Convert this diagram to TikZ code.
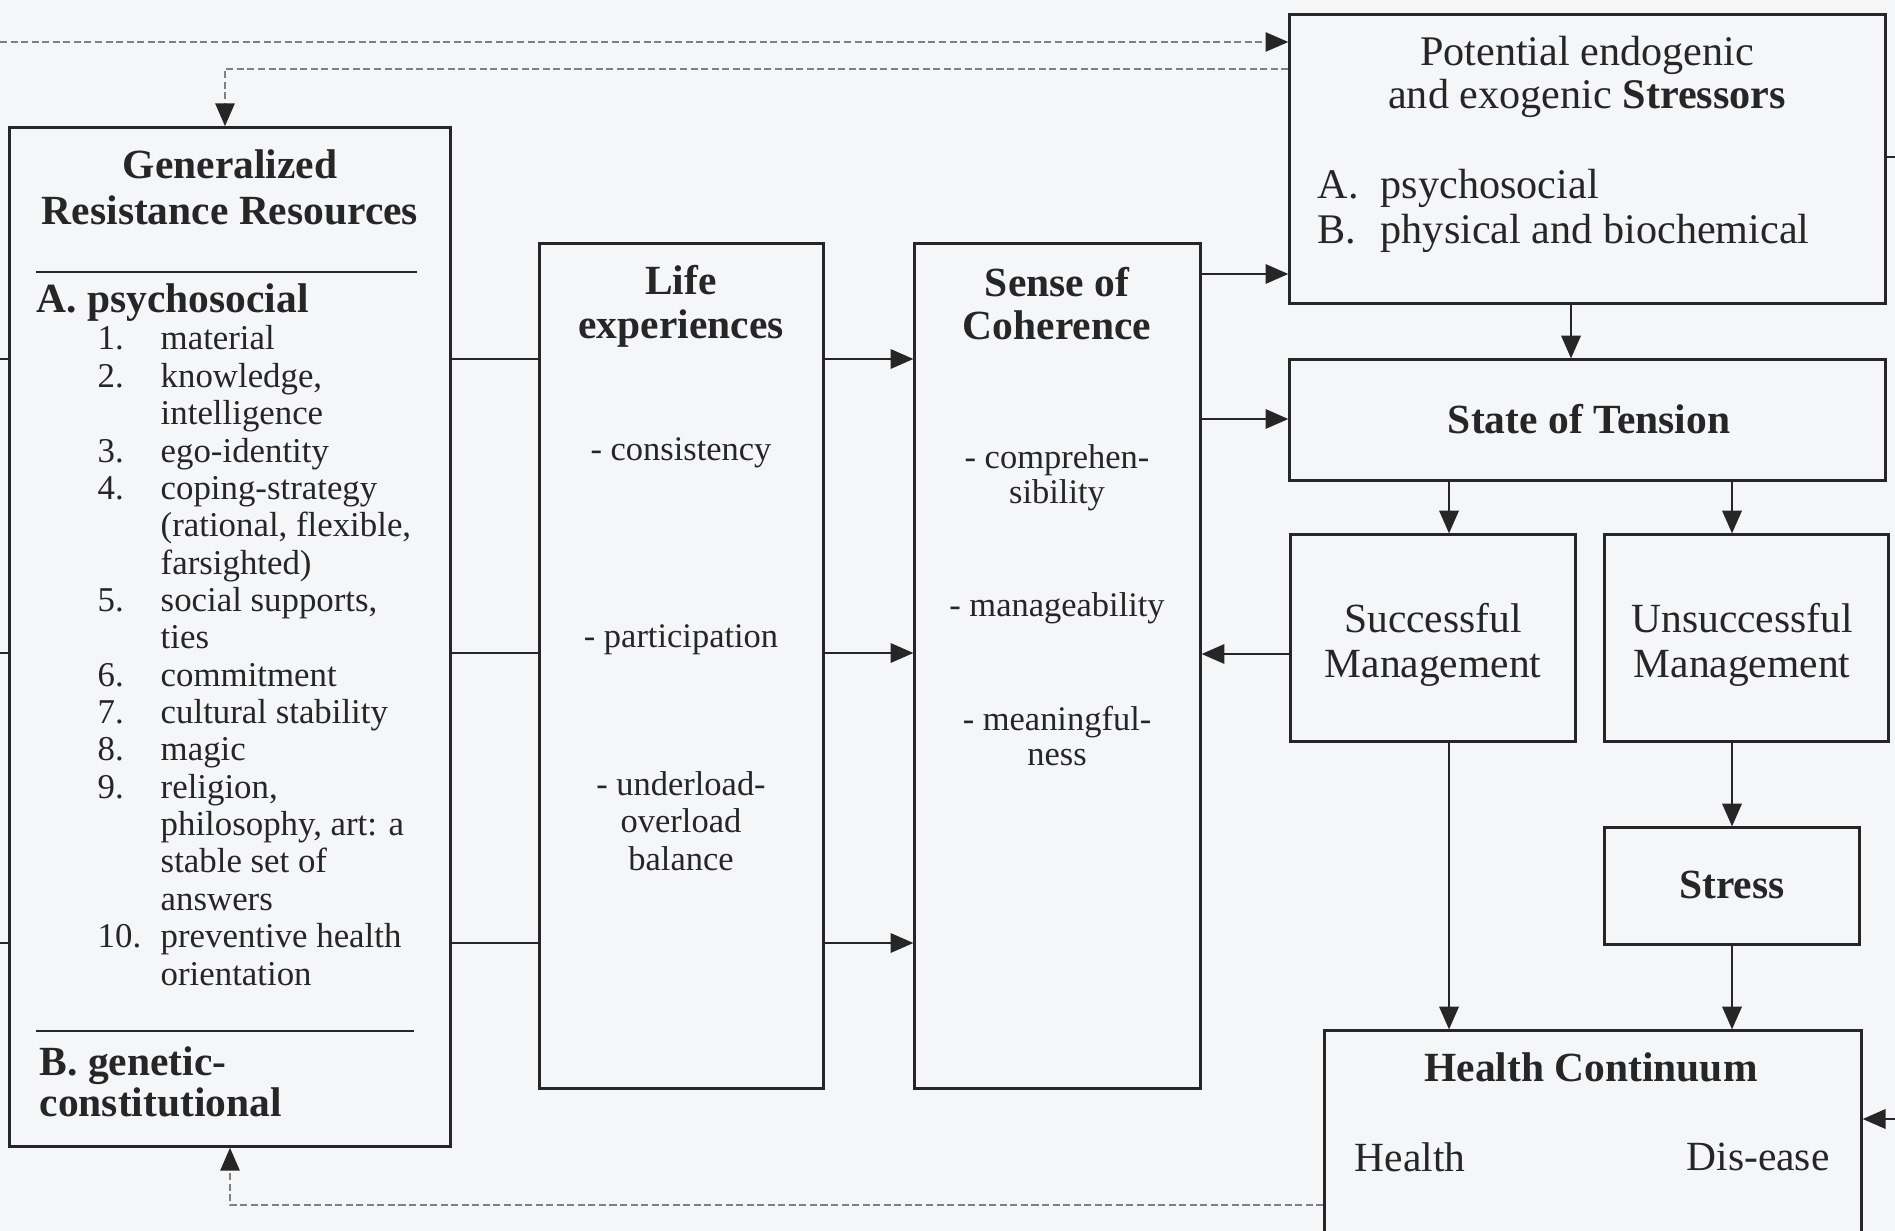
\documentclass[tikz,border=0pt]{standalone}
\usepackage{fontspec}
\setmainfont{Liberation Serif}
\usetikzlibrary{arrows.meta}
\definecolor{ink}{HTML}{262626}
\definecolor{paper}{HTML}{F4F6F7}
\definecolor{dashgray}{HTML}{808080}

\begin{document}
\begin{tikzpicture}[x=0.01cm, y=-0.01cm,
  box/.style={draw=ink, line width=0.85pt, fill=paper, inner sep=0pt, rectangle},
  conn/.style={draw=ink, line width=0.7pt},
  arr/.style={conn, -{Triangle[length=6.5pt,width=5.5pt]}},
  fb/.style={draw=dashgray, line width=0.5pt, dash pattern=on 2pt off 1pt,
             -{Triangle[length=6.5pt,width=5.5pt,color=ink]}},
  title/.style={font=\fontsize{11.8}{13}\selectfont\bfseries, text=ink, align=center, inner sep=0pt},
  body/.style={font=\fontsize{11.8}{13}\selectfont, text=ink, align=center, inner sep=0pt},
  item/.style={font=\fontsize{9.8}{10.7}\selectfont, text=ink, align=center, inner sep=0pt},
]
\fill[paper] (0,0) rectangle (1895,1231);
\clip (0,0) rectangle (1895,1231);

% helper levels for the parallel connectors
\coordinate (r1) at (0,359);
\coordinate (r2) at (0,653);
\coordinate (r3) at (0,943);
\coordinate (l1) at (0,359);
\coordinate (l2) at (0,653);
\coordinate (l3) at (0,943);
\coordinate (c1) at (1449,0);
\coordinate (c2) at (1732,0);
\coordinate (c3) at (1571,0);
\coordinate (topin) at (0,42);
\coordinate (fbtop) at (225,69);
\coordinate (fbbot) at (230,1205);
\coordinate (redge) at (1895,157);
\coordinate (hcin) at (1895,1119);

% boxes
\node[box, minimum width=4.40cm, minimum height=10.18cm] (grr) at (230,637) {};
\node[box, minimum width=2.83cm, minimum height=8.44cm] (life) at (681.5,666) {};
\node[box, minimum width=2.85cm, minimum height=8.44cm] (soc) at (1057.5,666) {};
\node[box, minimum width=5.95cm, minimum height=2.88cm] (str) at (1587.5,159) {};
\node[box, minimum width=5.95cm, minimum height=1.20cm] (ten) at (1587.5,420) {};
\node[box, minimum width=2.84cm, minimum height=2.06cm] (sm) at (1433,638) {};
\node[box, minimum width=2.83cm, minimum height=2.06cm] (um) at (1746.5,638) {};
\node[box, minimum width=2.54cm, minimum height=1.16cm] (stress) at (1732,886) {};
\node[box, minimum width=5.36cm, minimum height=2.29cm] (hc) at (1593,1145.5) {};

% Generalized Resistance Resources
\node[title, font=\fontsize{11.8}{13.1}\selectfont\bfseries] (grrtitle) at (230,187) {Generalized\\Resistance Resources};
\draw[conn, line width=0.6pt] (36,272) -- (417,272);
\node[title, anchor=west] (grra) at (36,303) {A. psychosocial};
\node[anchor=base west, inner sep=0pt, text=ink, font=\fontsize{9.9}{11.24}\selectfont] (grrlist) at (97,350)
 {\renewcommand{\arraystretch}{0.945}%
 \begin{tabular}[t]{@{}p{0.63cm}@{}l@{}}
 1. & material\\
 2. & knowledge,\\
    & intelligence\\
 3. & ego-identity\\
 4. & coping-strategy\\
    & (rational, flexible,\\
    & farsighted)\\
 5. & social supports,\\
    & ties\\
 6. & commitment\\
 7. & cultural stability\\
 8. & magic\\
 9. & religion,\\
    & philosophy, art: a\\
    & stable set of\\
    & answers\\
 10. & preventive health\\
    & orientation
 \end{tabular}};
\draw[conn, line width=0.6pt] (36,1031) -- (414,1031);
\node[title, align=left, anchor=west, font=\fontsize{11.8}{11.7}\selectfont\bfseries] (grrb) at (39,1082) {B. genetic-\\constitutional};

% Life experiences
\node[title, font=\fontsize{11.8}{12.5}\selectfont\bfseries] (lifetitle) at (681,306) {Life\\experiences};
\node[item] (le1) at (681,453) {- consistency};
\node[item] (le2) at (681,640) {- participation};
\node[item] (le3) at (681,821) {- underload-\\overload\\balance};

% Sense of Coherence
\node[title, font=\fontsize{11.8}{12.2}\selectfont\bfseries] (soctitle) at (1057,304) {Sense of\\Coherence};
\node[item, font=\fontsize{9.8}{10}\selectfont] (soc1) at (1057,478) {- comprehen-\\sibility};
\node[item] (soc2) at (1057,608) {- manageability};
\node[item, font=\fontsize{9.8}{10.2}\selectfont] (soc3) at (1057,736) {- meaningful-\\ness};

% Stressors
\node[body, font=\fontsize{12}{12.2}\selectfont] (strtitle) at (1587,77) {Potential endogenic\\and exogenic \textbf{Stressors}};
\node[anchor=base west, inner sep=0pt, text=ink, font=\fontsize{12}{13}\selectfont] (strlist) at (1317,199)
 {\renewcommand{\arraystretch}{0.975}%
 \begin{tabular}[t]{@{}p{0.63cm}@{}l@{}}
 A. & psychosocial\\
 B. & physical and biochemical
 \end{tabular}};

% right-hand chain
\node[title] (tentext) at (1589,419) {State of Tension};
\node[body, font=\fontsize{11.8}{12.8}\selectfont] (smtext) at (1433,645) {Successful\\Management};
\node[body, font=\fontsize{11.8}{12.8}\selectfont] (umtext) at (1742,645) {Unsuccessful\\Management};
\node[title] (stresstext) at (1732,885) {Stress};
\node[title] (hctitle) at (1591,1067) {Health Continuum};
\node[body] (hcl) at (1410,1157) {Health};
\node[body] (hcr) at (1758,1157) {Dis-ease};

% connectors: resources -> experiences -> coherence
\draw[conn] (l1) -- (grr.west |- l1);
\draw[conn] (l2) -- (grr.west |- l2);
\draw[conn] (l3) -- (grr.west |- l3);
\draw[conn] (grr.east |- r1) -- (life.west |- r1);
\draw[conn] (grr.east |- r2) -- (life.west |- r2);
\draw[conn] (grr.east |- r3) -- (life.west |- r3);
\draw[arr] (life.east |- r1) -- (soc.west |- r1);
\draw[arr] (life.east |- r2) -- (soc.west |- r2);
\draw[arr] (life.east |- r3) -- (soc.west |- r3);

% coherence -> stressors / tension, and feedback from successful management
\coordinate (s1) at (0,274);
\coordinate (s2) at (0,419);
\coordinate (s3) at (0,654);
\draw[arr] (soc.east |- s1) -- (str.west |- s1);
\draw[arr] (soc.east |- s2) -- (ten.west |- s2);
\draw[arr] (sm.west |- s3) -- (soc.east |- s3);

% vertical chain
\draw[arr] (str.south -| c3) -- (ten.north -| c3);
\draw[arr] (ten.south -| c1) -- (sm.north -| c1);
\draw[arr] (ten.south -| c2) -- (um.north -| c2);
\draw[arr] (um.south -| c2) -- (stress.north -| c2);
\draw[arr] (sm.south -| c1) -- (hc.north -| c1);
\draw[arr] (stress.south -| c2) -- (hc.north -| c2);

% edge connectors
\draw[conn] (str.east |- redge) -- (redge);
\draw[arr] (hcin) -- (hc.east |- hcin);

% dashed feedback loops
\draw[fb] (topin) -- (str.west |- topin);
\draw[fb] (str.west |- fbtop) -- (fbtop) -- (grr.north -| fbtop);
\draw[fb] (hc.west |- fbbot) -- (fbbot) -- (grr.south -| fbbot);
\end{tikzpicture}
\end{document}
